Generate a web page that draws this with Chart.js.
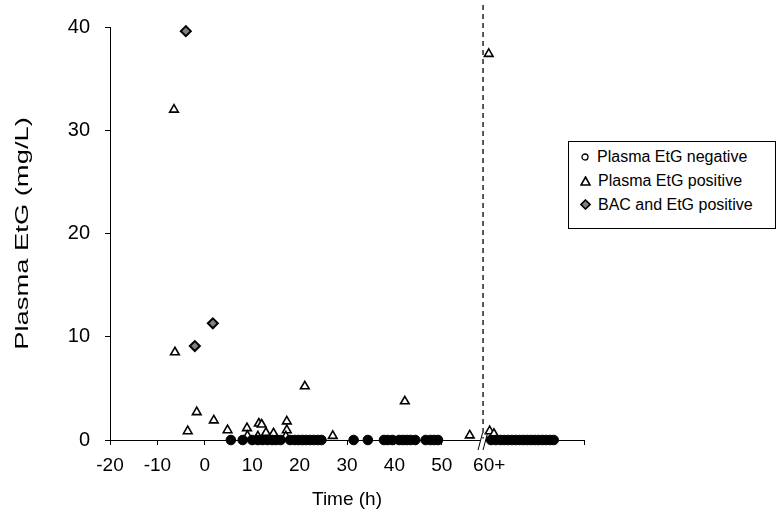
<!DOCTYPE html>
<html>
<head>
<meta charset="utf-8">
<script src="https://cdn.jsdelivr.net/npm/chart.js@4"></script>
<style>
  body { margin: 0; background: #fff; }
  #wrap { position: relative; width: 778px; height: 530px; }
  #legend {
    position: absolute; left: 568px; top: 141px; width: 208px; height: 88px;
    border: 1px solid #000; background: #fff; box-sizing: border-box;
    font-family: "Liberation Sans", Arial, sans-serif; font-size: 16px; color: #000;
  }
  #legend div { position: absolute; left: 11px; height: 18px; line-height: 18px; white-space: nowrap; }
  #legend svg { vertical-align: middle; margin-right: 7px; position: relative; top: -1px; }
</style>
</head>
<body>
<div id="wrap">
  <canvas id="myChart" width="778" height="530"></canvas>
  <div id="legend">
    <div style="top:6px"><svg width="10" height="10"><circle cx="5" cy="5" r="3" fill="#fff" stroke="#000" stroke-width="1.3"/></svg>Plasma EtG negative</div>
    <div style="top:30px"><svg width="11" height="10"><polygon points="5.5,1 10,9 1,9" fill="#fff" stroke="#000" stroke-width="1.6"/></svg>Plasma EtG positive</div>
    <div style="top:54px"><svg width="11" height="11"><polygon points="5.5,1 10,5.5 5.5,10 1,5.5" fill="#808080" stroke="#000" stroke-width="1.6"/></svg>BAC and EtG positive</div>
  </div>
</div>
<script>
// Plasma EtG negative (all at 0 mg/L)
const negTime = [5.5, 8, 10, 11.2, 12.2, 13.2, 14.2, 15, 16, 18, 19, 19.8, 20.6, 21.4, 22.2, 23, 23.8, 24.6,
  31.4, 34.4, 37.8, 38.6, 39.6, 41, 41.8, 42.6, 43.4, 44.4, 46.6, 47.6, 48.4, 49.2,
  60.4, 61.4, 62.4, 63.2, 64, 64.8, 65.6, 66.4, 67.2, 68, 68.8, 69.6, 70.4, 71.2, 72, 72.8, 73.6];
const negEtg = negTime.map(() => 0);

// Plasma EtG positive
const posTime = [-6.5, -6.3, -3.6, -1.7, 1.9, 4.8, 8.9, 9, 11.2, 11.4, 12, 12.9, 14.5, 17.3, 17.3, 17.1, 21.1, 27, 42.2, 55.9, 59.9, 60.1, 61];
const posEtg  = [32.0, 8.5, 0.85, 2.7, 1.9, 0.95, 1.15, 0.4, 0.35, 1.6, 1.5, 0.7, 0.65, 1.8, 0.95, 0.35, 5.2, 0.4, 3.75, 0.45, 37.4, 0.85, 0.6];

// BAC and EtG positive
const bacTime = [-4, -2.1, 1.7];
const bacEtg  = [39.6, 9.1, 11.3];

// axis
const xTicks = [-20, -10, 0, 10, 20, 30, 40, 50, 60, 70, 80];
const xTickLabels = ['-20', '-10', '0', '10', '20', '30', '40', '50', '60+', '', ''];
const cutTime = 58.7;
const yTitle = 'Plasma EtG (mg/L)';

const FONT = '"Liberation Sans", Arial, sans-serif';
const toPts = (xs, ys) => xs.map((x, i) => ({ x: x, y: ys[i] }));

const breakPlugin = {
  id: 'breakPlugin',
  afterDatasetsDraw(chart) {
    const ctx = chart.ctx;
    const xs = chart.scales.x;
    const ys = chart.scales.y;
    const px = xs.getPixelForValue(cutTime);
    const y0 = ys.getPixelForValue(0);
    ctx.save();
    // dashed divider
    ctx.strokeStyle = '#000';
    ctx.lineWidth = 1.3;
    ctx.setLineDash([5, 4]);
    ctx.beginPath();
    ctx.moveTo(px, 5);
    ctx.lineTo(px, y0);
    ctx.stroke();
    ctx.setLineDash([]);
    // axis break marks
    ctx.fillStyle = '#fff';
    ctx.fillRect(px - 3, y0 - 1.5, 5, 3);
    ctx.lineWidth = 1;
    ctx.beginPath();
    ctx.moveTo(px - 5, y0 + 10); ctx.lineTo(px - 0.5, y0 - 7);
    ctx.moveTo(px, y0 + 10); ctx.lineTo(px + 4.5, y0 - 7);
    ctx.stroke();

    // y axis title (stretched along its length like the original)
    const cy = (ys.top + ys.bottom) / 2;
    ctx.translate(23, cy);
    ctx.rotate(-Math.PI / 2);
    ctx.scale(1.44, 1);
    ctx.font = '19px ' + FONT;
    ctx.fillStyle = '#000';
    ctx.textAlign = 'center';
    ctx.textBaseline = 'middle';
    ctx.fillText(yTitle, 0, 0);
    ctx.restore();
  }
};

const ctx = document.getElementById('myChart').getContext('2d');
const chart = new Chart(ctx, {
  type: 'scatter',
  data: {
    datasets: [
      {
        label: 'Plasma EtG negative',
        data: toPts(negTime, negEtg),
        pointStyle: 'circle',
        pointRadius: 4.8,
        backgroundColor: '#000',
        borderColor: '#000',
        borderWidth: 1,
        clip: false
      },
      {
        label: 'Plasma EtG positive',
        data: toPts(posTime, posEtg),
        pointStyle: 'triangle',
        pointRadius: 5,
        backgroundColor: '#fff',
        borderColor: '#000',
        borderWidth: 1.6,
        clip: false
      },
      {
        label: 'BAC and EtG positive',
        data: toPts(bacTime, bacEtg),
        pointStyle: 'rectRot',
        pointRadius: 5,
        backgroundColor: '#808080',
        borderColor: '#000',
        borderWidth: 2,
        clip: false
      }
    ]
  },
  options: {
    responsive: false,
    animation: false,
    layout: { padding: { left: 0, right: 194, top: 24, bottom: 0 } },
    plugins: {
      legend: { display: false },
      tooltip: { enabled: false }
    },
    scales: {
      x: {
        type: 'linear',
        min: -20,
        max: 80,
        afterBuildTicks: (scale) => { scale.ticks = xTicks.map(v => ({ value: v })); },
        afterFit: (scale) => { scale.height = 90; },
        border: { display: true, color: '#000', width: 1 },
        grid: {
          drawOnChartArea: false,
          drawTicks: true,
          tickLength: 5,
          color: (c) => (c.tick && c.tick.value === 60 ? 'rgba(0,0,0,0)' : '#000')
        },
        ticks: {
          color: '#000',
          padding: 9,
          maxRotation: 0,
          autoSkip: false,
          font: { family: FONT, size: 19 },
          callback: (v) => xTickLabels[xTicks.indexOf(v)]
        },
        title: {
          display: true,
          text: 'Time (h)',
          color: '#000',
          padding: { top: 0, bottom: 19 },
          font: { family: FONT, size: 19 }
        }
      },
      y: {
        min: 0,
        max: 40,
        afterFit: (scale) => { scale.width = 110; },
        border: { display: true, color: '#000', width: 1 },
        grid: { drawOnChartArea: false, drawTicks: true, tickLength: 5, color: '#000' },
        ticks: {
          stepSize: 10,
          color: '#000',
          padding: 15,
          font: { family: FONT, size: 20 }
        },
        title: { display: false }
      }
    }
  },
  plugins: [breakPlugin]
});
</script>
</body>
</html>
